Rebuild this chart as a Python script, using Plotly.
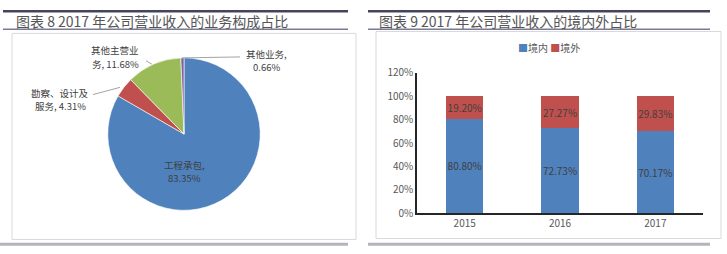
import math
import plotly.graph_objects as go

W, H = 727, 254

# Business segment split of 2017 revenue (pie)
seg_labels = ["工程承包", "勘察、设计及服务", "其他主营业务", "其他业务"]
seg_lines = [["工程承包,", "83.35%"], ["勘察、设计及", "服务, 4.31%"],
             ["其他主营业", "务, 11.68%"], ["其他业务,", "0.66%"]]
seg_values = [83.35, 4.31, 11.68, 0.66]
seg_colors = ["#4F81BD", "#C0504D", "#9BBB59", "#8064A2"]

# Domestic / overseas revenue split (stacked bars)
years = ["2015", "2016", "2017"]
domestic = [80.80, 72.73, 70.17]
overseas = [19.20, 27.27, 29.83]
series_names = ["境内", "境外"]
series_colors = ["#4F81BD", "#C0504D"]
y_ticks = [0, 20, 40, 60, 80, 100, 120]

titles = ["图表 8 2017 年公司营业收入的业务构成占比", "图表 9 2017 年公司营业收入的境内外占比"]

FONT = "Noto Sans CJK SC"
TXT = "#404040"


def px(x):
    return x / W


def py(y):
    return 1 - y / H


fig = go.Figure()

# ---- pie ----
cx, cy, r = 184, 134, 81
fig.add_trace(go.Pie(
    labels=seg_labels, values=seg_values, sort=False, direction="clockwise",
    rotation=0, marker=dict(colors=seg_colors, line=dict(color="white", width=0.6)),
    textinfo="none", hoverinfo="label+percent", showlegend=False,
    domain=dict(x=[px(cx - r), px(cx + r)], y=[py(cy + r), py(cy - r)]),
))

# ---- stacked bars ----
for name, vals, col in zip(series_names, [domestic, overseas], series_colors):
    fig.add_trace(go.Bar(
        x=years, y=vals, name=name, marker=dict(color=col, line=dict(width=0)),
        width=0.39, text=[f"{v:.2f}%" for v in vals], textposition="inside",
        insidetextanchor="middle", constraintext="none", textangle=0,
        textfont=dict(family=FONT, size=10, color=TXT), showlegend=False,
    ))

fig.update_layout(
    width=W, height=H, margin=dict(l=0, r=0, t=0, b=0),
    paper_bgcolor="white", plot_bgcolor="white", barmode="stack",
    font=dict(family=FONT, color=TXT),
    xaxis=dict(domain=[px(417), px(703)], showgrid=False, zeroline=False,
               showline=True, linecolor="#262626", linewidth=1.5, ticks="",
               tickfont=dict(size=10, color="#595959"), fixedrange=True),
    yaxis=dict(domain=[py(218), py(69)], range=[0, 120], tickvals=y_ticks,
               ticktext=[f"{v}%" for v in y_ticks], showgrid=False, zeroline=False,
               showline=True, linecolor="#262626", linewidth=1.5, ticks="",
               tickfont=dict(size=10, color="#595959"), fixedrange=True),
)

P = dict(xref="paper", yref="paper")
shapes = []
# header rules, title underlines, frames and footer rules for both panels
for x0, x1 in [(3, 348), (368, 710)]:
    shapes.append(dict(type="line", x0=px(x0), x1=px(x1), y0=py(3.5), y1=py(3.5),
                       line=dict(color="#44445f", width=2.5), **P))
    shapes.append(dict(type="line", x0=px(x0), x1=px(x1), y0=py(22.5), y1=py(22.5),
                       line=dict(color="#7a7a98", width=1.5), **P))
for x0, x1 in [(0, 348), (368, 710)]:
    shapes.append(dict(type="line", x0=px(x0), x1=px(x1), y0=py(251), y1=py(251),
                       line=dict(color="#b4b4bc", width=3), **P))
for x0, y0, x1, y1 in [(12, 27, 356, 246), (376, 25, 721, 245)]:
    shapes.append(dict(type="rect", x0=px(x0), x1=px(x1), y0=py(y1), y1=py(y0),
                       line=dict(color="#d9d9d9", width=1), fillcolor="rgba(0,0,0,0)",
                       layer="below", **P))

annotations = []
for t, x in zip(titles, [14, 377]):
    annotations.append(dict(text=t, x=px(x), y=py(14), xanchor="left", yanchor="middle",
                            showarrow=False, font=dict(family=FONT, size=14, color="#555555"), **P))

# pie labels with leader lines to each slice's mid-angle on the rim
total = sum(seg_values)
cum = 0.0
label_pos = [(185, 167), (60, 90), (115, 45), (266, 49)]
leader_end = [None, (93, 92), (146, 56), (240, 52)]
for v, lines, (lx, ly), le in zip(seg_values, seg_lines, label_pos, leader_end):
    mid = (cum + v / 2) / total * 2 * math.pi
    cum += v
    ex, ey = cx + r * math.sin(mid), cy - r * math.cos(mid)
    if le is not None:
        shapes.append(dict(type="line", x0=px(le[0]), y0=py(le[1]), x1=px(ex), y1=py(ey),
                           line=dict(color="#8c8c8c", width=0.8), **P))
    for i, t in enumerate(lines):
        annotations.append(dict(text=t, x=px(lx), y=py(ly + 14 * i), xanchor="center",
                                yanchor="middle", showarrow=False,
                                font=dict(family=FONT, size=9.5, color=TXT), **P))

# legend for the bar series
legend_txt = " ".join(f"<span style='color:{c}'>■</span>{n}" for n, c in zip(series_names, series_colors))
annotations.append(dict(text=legend_txt, x=px(549), y=py(42), xanchor="center", yanchor="middle",
                        showarrow=False, font=dict(family=FONT, size=10, color="#595959"), **P))

fig.update_layout(shapes=shapes, annotations=annotations)
fig.write_html("out.html")
